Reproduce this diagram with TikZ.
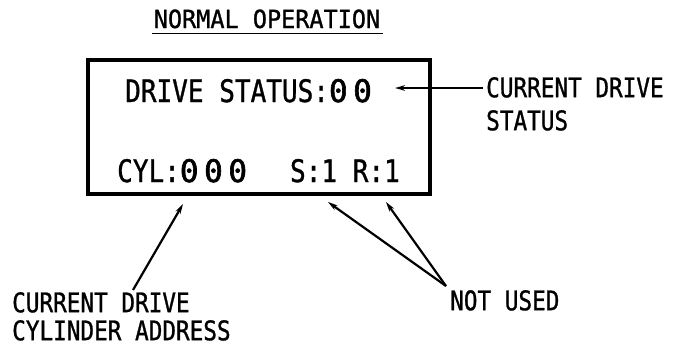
\documentclass[tikz,border=0pt]{standalone}
\usepackage{fontspec}
\newfontfamily\plotfont[FakeStretch=0.84,FakeBold=1]{DejaVu Sans Mono}
\newfontfamily\titlefont[FakeStretch=0.94,FakeBold=1]{DejaVu Sans Mono}
\newfontfamily\digitfont[FakeStretch=1.0,FakeBold=2,LetterSpace=18]{DejaVu Sans Mono}
\usetikzlibrary{arrows.meta}
\begin{document}
\begin{tikzpicture}[x=1pt,y=-1pt,
  lbl/.style={font=\plotfont\fontsize{27}{33}\selectfont, inner sep=0pt, align=left},
  disp/.style={font=\plotfont\fontsize{31}{33}\selectfont, inner sep=0pt},
  arr/.style={line width=2.2pt, -{Stealth[length=10pt,width=5.5pt]}},
]
\useasboundingbox (0,0) rectangle (687,346);
\node[font=\titlefont\fontsize{25}{30}\selectfont, inner sep=0pt, anchor=base] (title) at (267,28) {NORMAL OPERATION};
\draw[line width=1.8pt] ([xshift=-2pt,yshift=-5pt]title.south west) -- ([xshift=3pt,yshift=-5pt]title.south east);
\node[draw, line width=3.5pt, minimum width=342pt, minimum height=134pt, inner sep=0pt] (panel) at (259,127) {};
\node[disp, anchor=base west] (status) at (125,102) {DRIVE STATUS:{\digitfont 00}};
\node[disp, anchor=base west] (cyl) at (117,182) {CYL:{\digitfont 000}};
\node[disp, anchor=base east] (sr) at (400,182) {S:1 R:1};
\node[lbl, anchor=north west] (cds) at (486,77) {CURRENT DRIVE\\STATUS};
\node[lbl, anchor=north west, font=\plotfont\fontsize{27}{28}\selectfont] (cca) at (12,292) {CURRENT DRIVE\\CYLINDER ADDRESS};
\node[lbl, anchor=north west] (nu) at (450,290) {NOT USED};
\coordinate (cdsstart) at ([xshift=-3pt,yshift=-11pt]cds.north west);
\coordinate (stpt) at (395,88);
\coordinate (cylpt) at (183,204);
\coordinate (spt) at (328,202);
\coordinate (rpt) at (386,202);
\coordinate (ccatop) at (133,290);
\coordinate (nutop) at (446,286);
\draw[arr] (cdsstart) -- (stpt);
\draw[arr] (ccatop) -- (cylpt);
\draw[arr] (nutop) -- (spt);
\draw[arr] (nutop) -- (rpt);
\end{tikzpicture}
\end{document}
